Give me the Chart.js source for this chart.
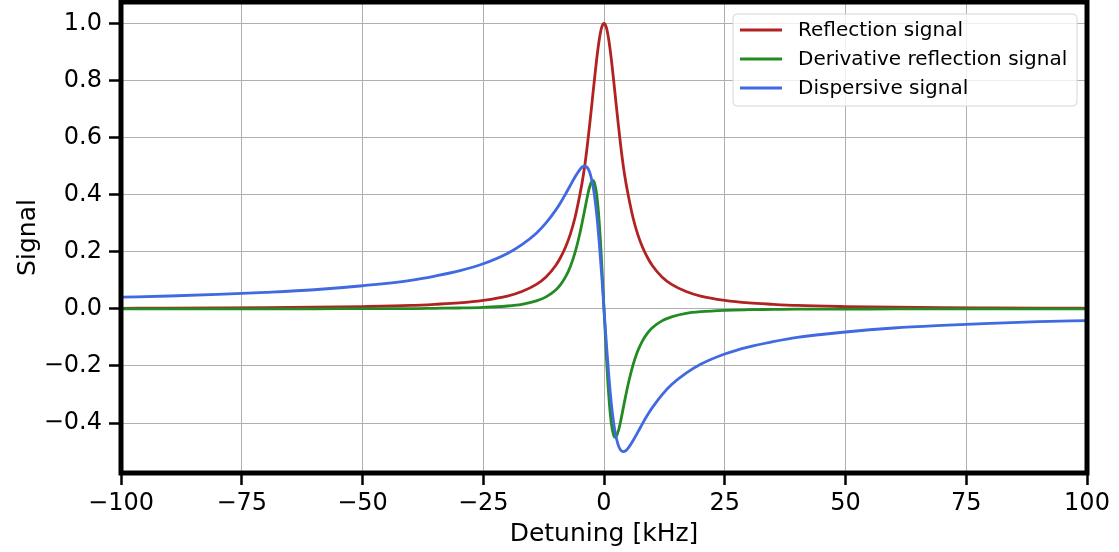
<!DOCTYPE html>
<html>
<head>
<meta charset="utf-8">
<script src="https://cdn.jsdelivr.net/npm/chart.js@4"></script>
<style>
  body { margin: 0; background: #fff; }
</style>
</head>
<body>
<canvas id="chart" width="1119" height="552"></canvas>
<script>
// detuning in kHz
const detuning = [-100,-90,-80,-70,-60,-50,-40,-35,-30,-25,-20,-17,-14,-12,-10,-9,-8,-7,-6,-5,-4.5,-4,-3.5,-3,-2.5,-2.3,-2,-1.5,-1,-0.5,
  0,0.5,1,1.5,2,2.3,2.5,3,3.5,4,4.5,5,6,7,8,9,10,12,14,17,20,25,30,35,40,50,60,70,80,90,100];

const reflection = [0.002,0.0025,0.0032,0.0041,0.0056,0.008,0.012,0.016,0.021,0.030,0.045,0.061,0.086,0.112,0.152,0.18,0.215,0.26,0.32,0.40,0.445,0.5,0.566,0.64,0.719,0.752,0.8,0.877,0.941,0.985,
  1,0.985,0.941,0.877,0.8,0.752,0.719,0.64,0.566,0.5,0.445,0.40,0.32,0.26,0.215,0.18,0.152,0.112,0.086,0.061,0.045,0.030,0.021,0.016,0.012,0.008,0.0056,0.0041,0.0032,0.0025,0.002];

const derivative = [0,0,0,0,0,0.001,0.001,0.002,0.003,0.005,0.010,0.016,0.028,0.042,0.066,0.085,0.111,0.147,0.197,0.264,0.304,0.346,0.389,0.426,0.448,0.450,0.443,0.399,0.307,0.168,
  0,-0.168,-0.307,-0.399,-0.443,-0.450,-0.448,-0.426,-0.389,-0.346,-0.304,-0.264,-0.197,-0.147,-0.111,-0.085,-0.066,-0.042,-0.028,-0.016,-0.010,-0.005,-0.003,-0.002,-0.001,-0.001,0,0,0,0,0];

const dispersive = [0.041,0.045,0.051,0.058,0.067,0.081,0.100,0.115,0.133,0.158,0.194,0.225,0.265,0.301,0.346,0.372,0.401,0.432,0.462,0.488,0.497,0.5,0.496,0.48,0.449,0.432,0.4,0.329,0.235,0.123,
  0,-0.123,-0.235,-0.329,-0.4,-0.432,-0.449,-0.48,-0.496,-0.5,-0.497,-0.488,-0.462,-0.432,-0.401,-0.372,-0.346,-0.301,-0.265,-0.225,-0.194,-0.158,-0.133,-0.115,-0.100,-0.081,-0.067,-0.058,-0.051,-0.045,-0.041];

const seriesNames = ['Reflection signal', 'Derivative reflection signal', 'Dispersive signal'];
const xTicks = [-100,-75,-50,-25,0,25,50,75,100];
const yTicks = [-0.4,-0.2,0,0.2,0.4,0.6,0.8,1.0];

Chart.defaults.font.family = "'DejaVu Sans', sans-serif";
Chart.defaults.color = '#000';

const pts = (ys) => detuning.map((x, i) => ({x: x, y: ys[i]}));
const minus = (s) => s.replace('-', '\u2212');

// thick black box round the plot area
const framePlugin = {
    id: 'frame',
    afterDatasetsDraw(chart) {
        const a = chart.chartArea, ctx = chart.ctx;
        ctx.save();
        ctx.strokeStyle = '#000';
        ctx.lineWidth = 5;
        ctx.strokeRect(a.left, a.top, a.right - a.left, a.bottom - a.top);
        ctx.restore();
    }
};

// matplotlib style legend in the upper right
const legendPlugin = {
    id: 'boxLegend',
    afterDraw(chart) {
        const ctx = chart.ctx;
        const x0 = 733, y0 = 14, w = 344, h = 92;
        ctx.save();
        ctx.beginPath();
        ctx.roundRect(x0, y0, w, h, 4);
        ctx.fillStyle = 'rgba(255,255,255,0.8)';
        ctx.fill();
        ctx.strokeStyle = '#d6d6d6';
        ctx.lineWidth = 1;
        ctx.stroke();
        ctx.font = "20px 'DejaVu Sans'";
        ctx.textBaseline = 'middle';
        chart.data.datasets.forEach((ds, i) => {
            const y = 30 + i * 29;
            ctx.strokeStyle = ds.borderColor;
            ctx.lineWidth = 2.8;
            ctx.beginPath();
            ctx.moveTo(740, y);
            ctx.lineTo(782, y);
            ctx.stroke();
            ctx.fillStyle = '#000';
            ctx.fillText(ds.label, 798, y + 1);
        });
        ctx.restore();
    }
};

const ctx = document.getElementById('chart');

const chart = new Chart(ctx, {
    type: 'line',
    data: {
        datasets: [{
            label: seriesNames[0],
            data: pts(reflection),
            borderColor: '#b22222',
            order: 3
        }, {
            label: seriesNames[1],
            data: pts(derivative),
            borderColor: '#228b22',
            order: 2
        }, {
            label: seriesNames[2],
            data: pts(dispersive),
            borderColor: '#4169e1',
            order: 1
        }]
    },
    options: {
        responsive: false,
        devicePixelRatio: 1,
        animation: false,
        layout: {padding: {top: 2, right: 32, bottom: 0, left: 0}},
        elements: {
            point: {radius: 0},
            line: {borderWidth: 2.8, cubicInterpolationMode: 'monotone', fill: false}
        },
        scales: {
            x: {
                type: 'linear',
                min: -100,
                max: 100,
                afterBuildTicks: (axis) => { axis.ticks = xTicks.map(v => ({value: v})); },
                afterFit: (axis) => {
                    axis.height = 79;
                    axis.paddingLeft = 0;
                    axis.paddingRight = 0;
                },
                border: {display: false},
                grid: {color: '#b0b0b0', lineWidth: 1, tickColor: '#000', tickLength: 12, tickWidth: 2.5},
                ticks: {
                    font: {size: 24},
                    padding: 4,
                    maxRotation: 0,
                    callback: (v) => minus(String(v))
                },
                title: {display: true, text: 'Detuning [kHz]', font: {size: 25}, padding: {top: 0, bottom: 3}}
            },
            y: {
                min: -0.575,
                max: 1.075,
                afterBuildTicks: (axis) => { axis.ticks = yTicks.map(v => ({value: v})); },
                afterFit: (axis) => {
                    axis.width = 121;
                    axis.paddingTop = 0;
                    axis.paddingBottom = 0;
                },
                border: {display: false},
                grid: {color: '#b0b0b0', lineWidth: 1, tickColor: '#000', tickLength: 12, tickWidth: 2.5},
                ticks: {
                    font: {size: 24},
                    padding: 7,
                    callback: (v) => minus(Number(v).toFixed(1))
                },
                title: {display: true, text: 'Signal', font: {size: 25}, padding: {top: 13, bottom: 0}}
            }
        },
        plugins: {
            legend: {display: false},
            tooltip: {enabled: false}
        }
    },
    plugins: [framePlugin, legendPlugin]
});
</script>
</body>
</html>
